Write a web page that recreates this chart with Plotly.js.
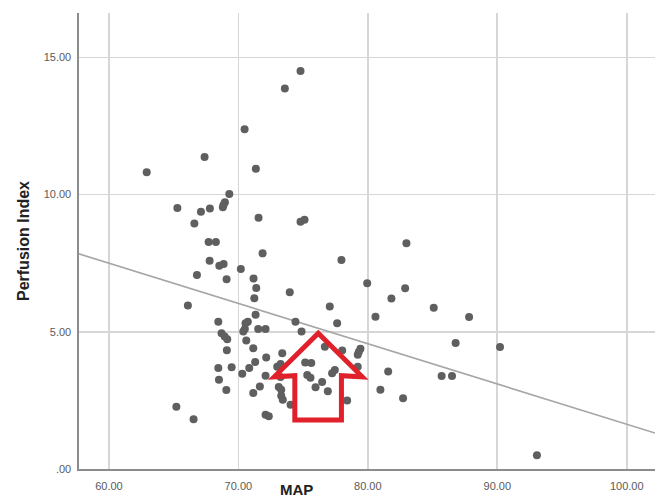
<!DOCTYPE html>
<html>
<head>
<meta charset="utf-8">
<script src="https://cdn.plot.ly/plotly-3.0.1.min.js"></script>
<style>
html,body{margin:0;padding:0;background:#fff;}
#chart{width:665px;height:500px;}
</style>
</head>
<body>
<div id="chart"></div>
<script>
// MAP values (x) and Perfusion Index values (y)
const mapValues = [
  74.80, 73.59, 70.48, 67.39, 62.92, 71.35, 69.30, 68.96, 68.85, 68.80,
  65.29, 67.80, 67.11, 71.56, 66.60, 74.80, 75.11, 67.70, 68.26, 71.87,
  67.78, 68.53, 68.86, 70.19, 66.80, 69.09, 71.17, 71.38, 71.23, 77.96,
  73.97, 79.95, 82.98, 82.88, 81.82, 85.09, 87.82, 80.59, 86.78, 90.21,
  81.57, 85.70, 86.50, 80.97, 82.72, 93.06, 77.06, 77.63, 74.88, 74.41,
  76.68, 78.02, 79.43, 79.30, 79.22, 75.16, 75.63, 75.32, 75.57, 77.24,
  77.45, 79.22, 75.96, 76.47, 76.91, 78.40, 71.33, 71.53, 72.10, 71.15,
  73.39, 72.15, 71.30, 73.00, 73.26, 72.10, 73.26, 71.66, 73.12, 73.31,
  71.15, 73.31, 73.43, 74.03, 72.10, 72.35, 66.10, 68.45, 70.55, 70.73,
  70.50, 70.38, 68.70, 68.94, 69.14, 70.61, 69.11, 68.45, 69.48, 70.84,
  70.30, 68.50, 69.07, 65.21, 66.54
];
const perfusionIndex = [
  14.51, 13.87, 12.38, 11.37, 10.82, 10.94, 10.02, 9.72, 9.62, 9.54,
  9.51, 9.49, 9.38, 9.16, 8.95, 9.01, 9.08, 8.27, 8.27, 7.86,
  7.59, 7.41, 7.47, 7.29, 7.07, 6.92, 6.94, 6.60, 6.22, 7.62,
  6.44, 6.77, 8.23, 6.59, 6.21, 5.88, 5.54, 5.55, 4.59, 4.45,
  3.55, 3.39, 3.39, 2.89, 2.58, 0.50, 5.92, 5.31, 5.01, 5.37,
  4.46, 4.32, 4.38, 4.26, 4.16, 3.88, 3.86, 3.43, 3.33, 3.49,
  3.61, 3.73, 2.98, 3.17, 2.83, 2.50, 5.62, 5.10, 5.10, 4.40,
  4.22, 4.06, 3.90, 3.73, 3.83, 3.40, 3.35, 3.01, 2.99, 2.89,
  2.77, 2.67, 2.52, 2.34, 1.98, 1.92, 5.96, 5.37, 5.31, 5.37,
  5.10, 5.01, 4.95, 4.83, 4.73, 4.68, 4.33, 3.68, 3.71, 3.68,
  3.47, 3.25, 2.88, 2.27, 1.81
];

// Fit line
const fitIntercept = 16.31;
const fitSlope = -0.1468;

// Axis ranges and ticks
const xRange = [57.69, 102.18];
const yRange = [0, 16.62];
const xTickVals = [60, 70, 80, 90, 100];
const xTickText = ['60.00', '70.00', '80.00', '90.00', '100.00'];
const yTickVals = [0, 5, 10, 15];
const yTickText = ['.00', '5.00', '10.00', '15.00'];

// Red highlight arrow outline (data coordinates)
const arrowX = [76.17, 79.57, 77.96, 77.96, 74.36, 74.36, 72.77];
const arrowY = [4.95, 3.36, 3.40, 1.79, 1.79, 3.40, 3.36];

const fitX = xRange.slice();
const fitY = fitX.map(v => fitIntercept + fitSlope * v);

let arrowPath = 'M ' + arrowX[0] + ',' + arrowY[0];
for (let i = 1; i < arrowX.length; i++) arrowPath += ' L ' + arrowX[i] + ',' + arrowY[i];
arrowPath += ' Z';

const tickFont = {family: '"Liberation Sans Narrow", "Arial Narrow", "Liberation Sans", sans-serif', size: 11, color: '#5a5a5a'};

const traces = [
  {
    x: fitX, y: fitY, type: 'scatter', mode: 'lines',
    line: {color: '#a6a6a6', width: 1.6},
    hoverinfo: 'skip', showlegend: false
  },
  {
    x: mapValues, y: perfusionIndex, type: 'scatter', mode: 'markers',
    marker: {color: '#5f5f5f', size: 8, line: {width: 0}},
    showlegend: false
  }
];

const layout = {
  width: 665, height: 500,
  margin: {l: 79, r: 10, t: 13, b: 31, pad: 0},
  paper_bgcolor: '#fff', plot_bgcolor: '#fff',
  showlegend: false,
  xaxis: {
    range: xRange, tickmode: 'array', tickvals: xTickVals, ticktext: xTickText,
    showgrid: true, gridcolor: '#d6d6d6', gridwidth: 1.7,
    zeroline: false, showline: true, linecolor: '#8c8c8c', linewidth: 1.6,
    ticks: '', tickfont: tickFont, ticklabelstandoff: 6
  },
  yaxis: {
    range: yRange, tickmode: 'array', tickvals: yTickVals, ticktext: yTickText,
    showgrid: true, gridcolor: '#d6d6d6', gridwidth: 1.7,
    zeroline: false, showline: true, linecolor: '#8c8c8c', linewidth: 1.6,
    ticks: '', tickfont: tickFont, ticklabelstandoff: 4,
    title: {text: '<b>Perfusion Index</b>', font: {family: '"Liberation Sans", Arial, sans-serif', size: 16, color: '#222'}, standoff: 10}
  },
  annotations: [
    {
      text: '<b>MAP</b>', xref: 'paper', yref: 'paper', x: 0.377, y: -0.046,
      xanchor: 'center', yanchor: 'middle', showarrow: false,
      font: {family: '"Liberation Sans", Arial, sans-serif', size: 15, color: '#222'}
    }
  ],
  shapes: [
    {
      type: 'path', xref: 'x', yref: 'y', path: arrowPath,
      line: {color: '#e0202a', width: 5}, fillcolor: 'rgba(0,0,0,0)', layer: 'above'
    }
  ]
};

Plotly.newPlot('chart', traces, layout, {displayModeBar: false, staticPlot: true});
</script>
</body>
</html>
